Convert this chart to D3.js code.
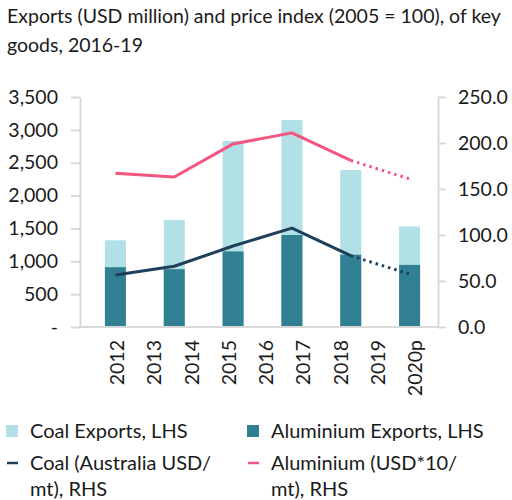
<!DOCTYPE html>
<html lang="en">
<head>
<meta charset="UTF-8"/>
<title>Exports and price index</title>
<script src="https://d3js.org/d3.v7.min.js"></script>
<style>
    body { margin: 0; background: #fff; }
    text { font-family: Lato, "Open Sans", sans-serif; fill: #1a1a1a; }
    .axis path, .axis line { stroke: #d9d9d9; stroke-width: 2px; }
</style>
</head>
<body>
<svg width="512" height="500"></svg>
<script>
// six plotted points, nine printed year labels (as in the source chart)
var slots = [0, 1, 2, 3, 4, 5];
var yearLabels = ["2012", "2013", "2014", "2015", "2016", "2017", "2018", "2019", "2020p"];

var coalExports = [1320, 1630, 2830, 3150, 2390, 1530];       // LHS
var aluminiumExports = [910, 880, 1150, 1400, 1100, 945];     // LHS
var coalPrice = [56.5, 66, 88, 107.5, 77.5, 57.5];            // RHS
var aluminiumPrice = [167, 163, 199, 211, 181, 161];          // RHS
var lastActual = 4; // after this the lines are dotted (projection)

var leftTicks = [0, 500, 1000, 1500, 2000, 2500, 3000, 3500];
var rightTicks = [0, 50, 100, 150, 200, 250];

var svg = d3.select("svg");

var plotLeft = 80, plotRight = 438, plotTop = 97, plotBottom = 327;

// title
var title = svg.append("text").style("font-size", "19.5px");
title.append("tspan").attr("x", 7).attr("y", 23).text("Exports (USD million) and price index (2005 = 100), of key");
title.append("tspan").attr("x", 7).attr("y", 52).text("goods, 2016-19");

var x = d3.scaleBand().domain(slots).range([86, 439]).paddingInner(0.643).paddingOuter(0.3215);
var xLab = d3.scalePoint().domain(yearLabels).range([117, 415]);
var yL = d3.scaleLinear().domain([0, 3500]).range([plotBottom, plotTop]);
var yR = d3.scaleLinear().domain([0, 250]).range([plotBottom, plotTop]);

// axes
var axL = svg.append("g").attr("class", "axis")
    .attr("transform", "translate(" + plotLeft + ",0)")
    .call(d3.axisLeft(yL).tickValues(leftTicks).tickSize(9).tickSizeOuter(0)
        .tickFormat(function(d) { return d === 0 ? "-" : d3.format(",")(d); }));
axL.selectAll("text").style("font-size", "19.5px").attr("x", -22).attr("fill", "#1a1a1a");

var axR = svg.append("g").attr("class", "axis")
    .attr("transform", "translate(" + plotRight + ",0)")
    .call(d3.axisRight(yR).tickValues(rightTicks).tickSize(8).tickSizeOuter(0)
        .tickFormat(d3.format(".1f")));
axR.selectAll("text").style("font-size", "19.5px").attr("x", 20).attr("fill", "#1a1a1a");

svg.append("line")
    .attr("x1", plotLeft - 1).attr("x2", plotRight + 1)
    .attr("y1", plotBottom).attr("y2", plotBottom)
    .attr("stroke", "#d9d9d9").attr("stroke-width", 2);

// bars: coal behind, aluminium in front
svg.selectAll(".coal").data(slots).enter().append("rect")
    .attr("x", function(d) { return x(d); })
    .attr("width", x.bandwidth())
    .attr("y", function(d) { return yL(coalExports[d]); })
    .attr("height", function(d) { return plotBottom - 1 - yL(coalExports[d]); })
    .attr("fill", "#b1e0e7");

svg.selectAll(".alu").data(slots).enter().append("rect")
    .attr("x", function(d) { return x(d); })
    .attr("width", x.bandwidth())
    .attr("y", function(d) { return yL(aluminiumExports[d]); })
    .attr("height", function(d) { return plotBottom - 1 - yL(aluminiumExports[d]); })
    .attr("fill", "#317f93");

// lines
function drawLine(values, color) {
    var line = d3.line()
        .x(function(d) { return x(d) + x.bandwidth() / 2; })
        .y(function(d) { return yR(values[d]); });
    svg.append("path")
        .datum(slots.slice(0, lastActual + 1))
        .attr("d", line)
        .attr("fill", "none").attr("stroke", color)
        .attr("stroke-width", 3).attr("stroke-linejoin", "round");
    svg.append("path")
        .datum(slots.slice(lastActual))
        .attr("d", line)
        .attr("fill", "none").attr("stroke", color)
        .attr("stroke-width", 3).attr("stroke-dasharray", "2.5 4");
}
drawLine(aluminiumPrice, "#f2557e");
drawLine(coalPrice, "#1f3f5a");

// year labels
svg.selectAll(".yr").data(yearLabels).enter().append("text")
    .attr("transform", function(d) { return "translate(" + (xLab(d) + 7) + ",340) rotate(-90)"; })
    .attr("text-anchor", "end")
    .style("font-size", "19.5px")
    .text(function(d) { return d; });

// legend
var legend = [
    { type: "box", color: "#b1e0e7", x: 6, y: 431, lines: ["Coal Exports, LHS"] },
    { type: "box", color: "#317f93", x: 247, y: 431, lines: ["Aluminium Exports, LHS"] },
    { type: "line", color: "#1f3f5a", x: 6, y: 463, lines: ["Coal (Australia USD/", "mt), RHS"] },
    { type: "line", color: "#f2557e", x: 247, y: 463, lines: ["Aluminium (USD*10/", "mt), RHS"] }
];
legend.forEach(function(l) {
    if (l.type === "box") {
        svg.append("rect").attr("x", l.x).attr("y", l.y - 6).attr("width", 12).attr("height", 12).attr("fill", l.color);
    } else {
        svg.append("line").attr("x1", l.x + 1).attr("x2", l.x + 12).attr("y1", l.y).attr("y2", l.y)
            .attr("stroke", l.color).attr("stroke-width", 2.5);
    }
    l.lines.forEach(function(t, i) {
        svg.append("text").attr("x", l.x + 24).attr("y", l.y + 7 + i * 26)
            .style("font-size", "20px").text(t);
    });
});
</script>
</body>
</html>
